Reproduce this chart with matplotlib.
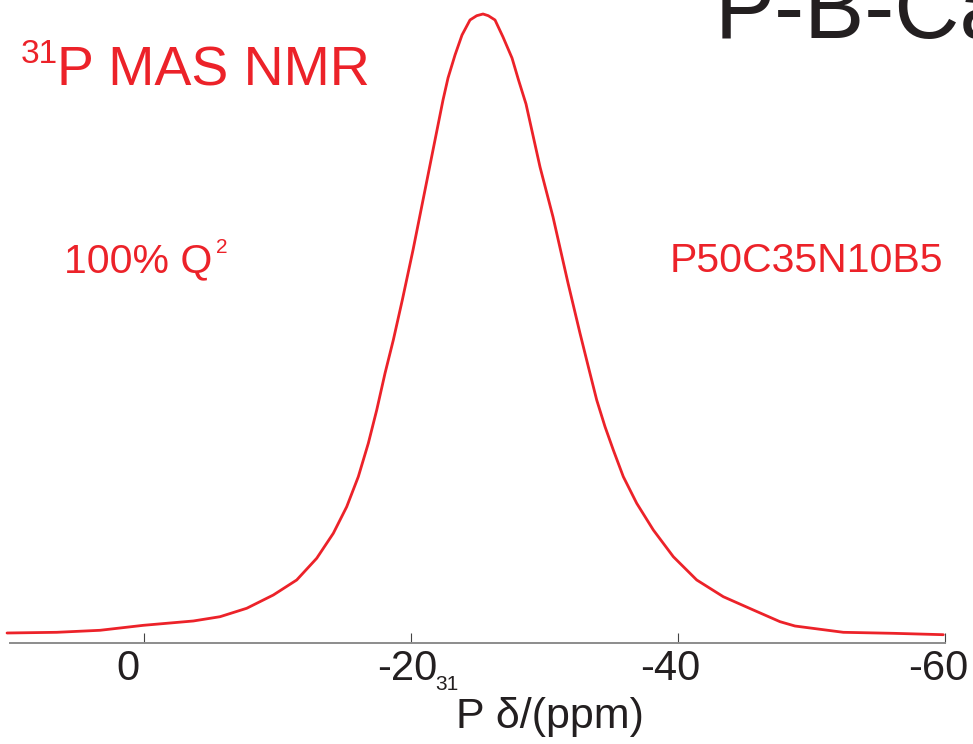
import matplotlib
matplotlib.use("Agg")
import matplotlib.pyplot as plt
from matplotlib import font_manager
from matplotlib.transforms import ScaledTranslation

# 31P MAS NMR spectrum of glass P50C35N10B5
shift_ppm = [10.262, 6.539, 3.296, 0.052, -3.693, -5.693, -7.693, -9.685, -11.438,
             -12.936, -14.180, -15.184, -16.052, -16.801, -17.431, -18.052, -18.674,
             -19.348, -20.150, -20.899, -21.648, -22.397, -22.772, -23.296, -23.820,
             -24.419, -24.921, -25.393, -25.790, -26.292, -26.891, -27.566, -28.052,
             -28.614, -29.663, -30.637, -31.760, -32.659, -33.281, -33.910, -34.532,
             -35.154, -35.903, -36.906, -38.150, -39.648, -41.401, -43.393, -45.640,
             -47.640, -48.764, -52.382, -56.127, -59.873]
intensity = [0.0159, 0.0170, 0.0202, 0.0281, 0.0350, 0.0418, 0.0552, 0.0763, 0.1002,
             0.1347, 0.1744, 0.2167, 0.2644, 0.3175, 0.3704, 0.4288, 0.4817, 0.5453,
             0.6248, 0.7043, 0.7838, 0.8633, 0.8983, 0.9348, 0.9666, 0.9905, 0.9973,
             1.0000, 0.9973, 0.9905, 0.9634, 0.9300, 0.8951, 0.8569, 0.7568, 0.6773,
             0.5723, 0.4924, 0.4393, 0.3863, 0.3439, 0.3068, 0.2644, 0.2221, 0.1797,
             0.1372, 0.1002, 0.0736, 0.0525, 0.0339, 0.0270, 0.0170, 0.0154, 0.0132]
tick_values = [0, -20, -40, -60]
tick_labels = ["0", "-20", "-40", "-60"]


def pick_font(candidates):
    for name in candidates:
        try:
            font_manager.findfont(font_manager.FontProperties(family=name),
                                  fallback_to_default=False)
            return name
        except ValueError:
            continue
    return "DejaVu Sans"


FONT = pick_font(["Liberation Sans Narrow", "Liberation Sans", "Arimo"])
plt.rcParams["font.family"] = [FONT, "DejaVu Sans"]

RED = "#ec2229"
INK = "#231f20"
W, H = 973, 744


def fx(px):
    return px / W


def fy(py):
    return 1 - py / H


fig = plt.figure(figsize=(W / 100, H / 100), dpi=100)
ax = fig.add_axes([fx(10), fy(643), fx(945) - fx(10), fy(0) - fy(643)])
ax.set_xlim(10.04, -60)
ax.set_ylim(0, 643 / 629)

ax.plot(shift_ppm, intensity, color=RED, lw=2.0, clip_on=False,
        solid_joinstyle="round", solid_capstyle="round")

for side in ("left", "right", "top"):
    ax.spines[side].set_visible(False)
ax.spines["bottom"].set_color("#8c8c8c")
ax.spines["bottom"].set_linewidth(1.4)
ax.set_yticks([])
ax.set_xticks(tick_values)
ax.set_xticklabels(tick_labels)
ax.tick_params(axis="x", direction="in", length=7, width=0.8, color="#444444",
               labelsize=30, labelcolor=INK, pad=4.5)
label_shift_px = [-16, -4, -8, -7]
for lab, dx in zip(ax.get_xticklabels(), label_shift_px):
    lab.set_transform(lab.get_transform() +
                      ScaledTranslation(dx / 100, 0, fig.dpi_scale_trans))

# axis title with isotope superscript
fig.text(fx(458), fy(690), "31", fontsize=15, color=INK, ha="right", va="baseline")
fig.text(fx(456), fy(728), "P δ/(ppm)", fontsize=31, color=INK, ha="left",
         va="baseline")

# panel annotations
fig.text(fx(58), fy(63), "31", fontsize=24, color=RED, ha="right", va="baseline")
fig.text(fx(57), fy(85), "P MAS NMR", fontsize=40, color=RED, ha="left",
         va="baseline")
fig.text(fx(64), fy(272), "100% Q", fontsize=29.5, color=RED, ha="left",
         va="baseline")
fig.text(fx(216), fy(253), "2", fontsize=15, color=RED, ha="left", va="baseline")
fig.text(fx(670), fy(272), "P50C35N10B5", fontsize=29.5, color=RED, ha="left",
         va="baseline")
fig.text(fx(715), fy(38), "P-B-Ca", fontsize=65, color=INK, ha="left", va="baseline")

fig.savefig("out.png", dpi=100)
